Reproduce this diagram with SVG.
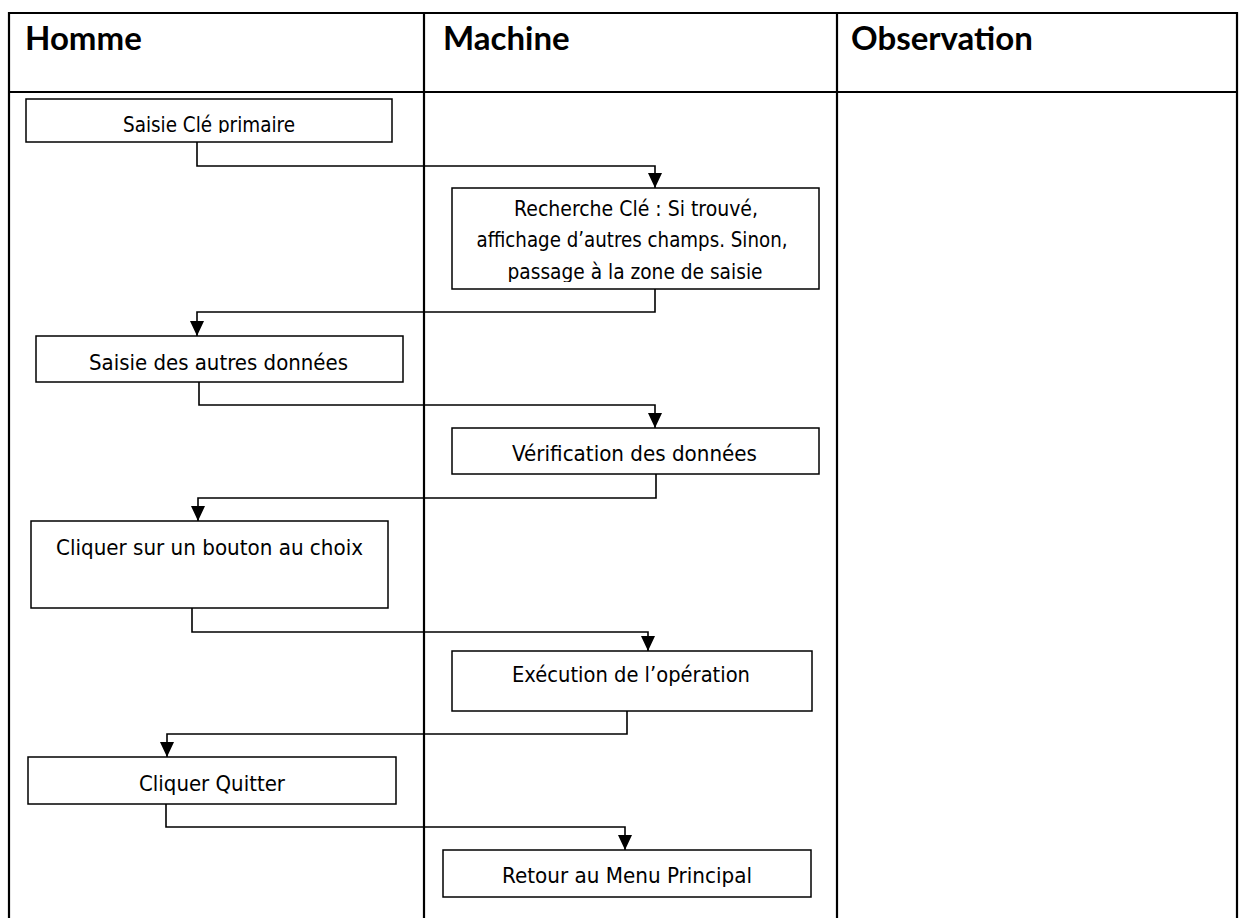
<svg xmlns="http://www.w3.org/2000/svg" width="1240" height="918" viewBox="0 0 1240 918">
<style>
.grid{stroke:#000;stroke-width:2.2;fill:none}
.hdr{font-family:Lato,"Open Sans",sans-serif;font-weight:bold;font-size:33px;fill:#000}
.box{fill:#fff;stroke:#000;stroke-width:1.5}
.lbl{font-family:"DejaVu Sans",Verdana,sans-serif;font-size:21px;fill:#000;text-anchor:middle}
.con{fill:none;stroke:#000;stroke-width:1.6;marker-end:url(#arr)}
</style>
<defs>
<marker id="arr" markerUnits="userSpaceOnUse" markerWidth="16" markerHeight="15" refX="15" refY="7" orient="auto" overflow="visible">
<path d="M0,0 L15,7 L0,14 Z" fill="#000"/>
</marker>
<clipPath id="clip1"><rect x="26" y="99" width="366" height="34"/></clipPath>
<clipPath id="clip2"><rect x="452" y="188" width="367" height="94"/></clipPath>
</defs>
<rect width="1240" height="918" fill="#fff"/>
<g id="table">
<path class="grid" d="M9,13 H1237 M9,92 H1237 M9,12 V918 M424,12 V918 M837,12 V918 M1237,12 V918"/>
<text class="hdr" x="25" y="50">Homme</text>
<text class="hdr" x="443" y="50">Machine</text>
<text class="hdr" x="851" y="50">Observation</text>
</g>
<g id="connectors">
<polyline class="con" points="197,142 197,166 655,166 655,188"/>
<polyline class="con" points="655,289 655,312 197,312 197,336"/>
<polyline class="con" points="199,382 199,405 655,405 655,428"/>
<polyline class="con" points="656,474 656,498 198,498 198,521"/>
<polyline class="con" points="192,608 192,632 648,632 648,651"/>
<polyline class="con" points="627,711 627,734 167,734 167,757"/>
<polyline class="con" points="166,804 166,827 625,827 625,850"/>
</g>
<g id="n1">
<rect class="box" x="26" y="99" width="366" height="43"/>
<text class="lbl" x="209" y="132" textLength="172" lengthAdjust="spacingAndGlyphs" clip-path="url(#clip1)">Saisie Clé primaire</text>
</g>
<g id="n2">
<rect class="box" x="452" y="188" width="367" height="101"/>
<text class="lbl" x="636" y="216" textLength="244" lengthAdjust="spacingAndGlyphs">Recherche Clé : Si trouvé,</text>
<text class="lbl" x="632" y="247" textLength="311" lengthAdjust="spacingAndGlyphs">affichage d’autres champs. Sinon,</text>
<text class="lbl" x="635" y="279" textLength="255" lengthAdjust="spacingAndGlyphs" clip-path="url(#clip2)">passage à la zone de saisie</text>
</g>
<g id="n3">
<rect class="box" x="36" y="336" width="367" height="46"/>
<text class="lbl" x="218.5" y="370" textLength="259" lengthAdjust="spacingAndGlyphs">Saisie des autres données</text>
</g>
<g id="n4">
<rect class="box" x="452" y="428" width="367" height="46"/>
<text class="lbl" x="634.5" y="461" textLength="245" lengthAdjust="spacingAndGlyphs">Vérification des données</text>
</g>
<g id="n5">
<rect class="box" x="31" y="521" width="357" height="87"/>
<text class="lbl" x="209.5" y="555" textLength="307" lengthAdjust="spacingAndGlyphs">Cliquer sur un bouton au choix</text>
</g>
<g id="n6">
<rect class="box" x="452" y="651" width="360" height="60"/>
<text class="lbl" x="631" y="682" textLength="238" lengthAdjust="spacingAndGlyphs">Exécution de l’opération</text>
</g>
<g id="n7">
<rect class="box" x="28" y="757" width="368" height="47"/>
<text class="lbl" x="212" y="791" textLength="146" lengthAdjust="spacingAndGlyphs">Cliquer Quitter</text>
</g>
<g id="n8">
<rect class="box" x="443" y="850" width="368" height="47"/>
<text class="lbl" x="627" y="883" textLength="250" lengthAdjust="spacingAndGlyphs">Retour au Menu Principal</text>
</g>
</svg>
